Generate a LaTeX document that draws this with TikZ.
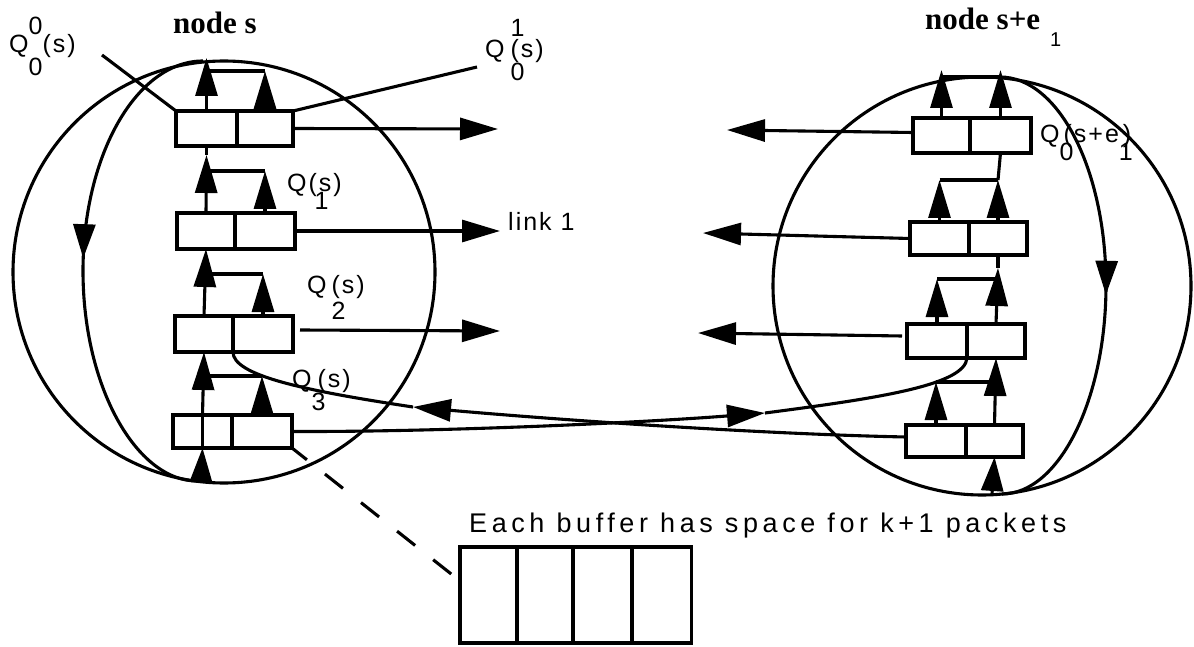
\documentclass[tikz,border=0pt]{standalone}
\usepackage{fontspec}
\setmainfont{Liberation Serif}
\newfontfamily\lblfont{Liberation Sans}[LetterSpace=8]
\newfontfamily\capfont{Liberation Sans}[LetterSpace=17]
\usetikzlibrary{arrows.meta,calc,decorations.markings}
\tikzset{
  ln/.style={line width=3.1pt},
  cell/.style={draw, line width=3.1pt, inner sep=0pt, outer sep=0pt},
  arr/.style={ln, -{Triangle[length=38pt,width=22pt]}},
  arrS/.style={ln, -{Triangle[length=34pt,width=22pt]}},
  lbl/.style={font=\lblfont\fontsize{25}{27}\selectfont, inner sep=0pt, anchor=base west},
  ttl/.style={font=\bfseries\fontsize{31}{34}\selectfont, inner sep=0pt, anchor=base west},
  midarrow/.style={postaction={decorate}, decoration={markings, mark=at position #1 with {\arrow{Triangle[length=34pt,width=22pt]}}}}
}
\begin{document}
\begin{tikzpicture}[x=1pt,y=-1pt]
\useasboundingbox (0,0) rectangle (1194,647);
\fill[white] (0,0) rectangle (1194,647);

% spheres
\draw[ln] (224,272) circle[radius=211pt];
\draw[ln] (982,286) circle[radius=209pt];
\draw[ln, midarrow=0.48] (203,61) .. controls (136.7,61) and (83,155) .. (83,271) .. controls (83,387) and (136.7,481) .. (197,481);
\draw[ln, midarrow=0.52] (1000,77) .. controls (1058.5,77) and (1106,169.6) .. (1106,285) .. controls (1106,400.4) and (1058.5,494) .. (1002,494);

% left buffers
\node[cell, minimum width=61pt, minimum height=35pt] (L0a) at (206.5,128.5) {};
\node[cell, minimum width=56pt, minimum height=35pt] (L0b) at (265,128.5) {};
\node[cell, minimum width=58pt, minimum height=36pt] (L1a) at (206,231) {};
\node[cell, minimum width=60pt, minimum height=36pt] (L1b) at (265,231) {};
\node[cell, minimum width=58pt, minimum height=36pt] (L2a) at (204,334) {};
\node[cell, minimum width=60pt, minimum height=36pt] (L2b) at (263,334) {};
\node[cell, minimum width=59pt, minimum height=33pt] (L3a) at (202.5,431.5) {};
\node[cell, minimum width=60pt, minimum height=33pt] (L3b) at (262,431.5) {};

% right buffers
\node[cell, minimum width=57pt, minimum height=35pt] (R0a) at (941.5,135.5) {};
\node[cell, minimum width=61pt, minimum height=35pt] (R0b) at (1000.5,135.5) {};
\node[cell, minimum width=59pt, minimum height=33pt] (R1a) at (939.5,238.5) {};
\node[cell, minimum width=58pt, minimum height=33pt] (R1b) at (998,238.5) {};
\node[cell, minimum width=60pt, minimum height=34pt] (R2a) at (937,341) {};
\node[cell, minimum width=58pt, minimum height=34pt] (R2b) at (996,341) {};
\node[cell, minimum width=60pt, minimum height=32pt] (R3a) at (936,441) {};
\node[cell, minimum width=57pt, minimum height=32pt] (R3b) at (994.5,441) {};

% bottom buffer
\node[cell, minimum width=57pt, minimum height=96pt] (B1) at (488.5,595) {};
\node[cell, minimum width=56pt, minimum height=96pt] (B2) at (545,595) {};
\node[cell, minimum width=59pt, minimum height=96pt] (B3) at (602.5,595) {};
\node[cell, minimum width=59pt, minimum height=96pt] (B4) at (662,595) {};

% left vertical structure
\coordinate (Lbot) at (201,482);
\draw[arrS] (Lbot) -- (L3a.south);
\draw[ln] (L3a.south) -- (L3a.north);
\draw[arr] (L3a.north) -- (L2a.south);
\coordinate (Lh3) at (0,376);
\draw[ln] (L3a.north |- Lh3) -- (L3b.north |- Lh3);
\draw[arr] (L3b.north) -- (L3b.north |- Lh3);

\draw[arr] (L2a.north) -- (L1a.south);
\coordinate (Lh2) at (0,274);
\draw[ln] (L2a.north |- Lh2) -- (L2b.north |- Lh2);
\draw[arr] (L2b.north) -- (L2b.north |- Lh2);

\coordinate (L0s) at ($(L0a.south)+(0,9)$);
\draw[ln] (L0a.south) -- (L0s);
\draw[arr] (L1a.north) -- (L0s);
\coordinate (Lh1) at (0,171);
\draw[ln] (L1a.north |- Lh1) -- (L1b.north |- Lh1);
\draw[arr] (L1b.north) -- (L1b.north |- Lh1);

\coordinate (Ltop) at (0,58);
\draw[arr] (L0a.north) -- (L0a.north |- Ltop);
\coordinate (Lh0) at (0,71);
\draw[ln] (L0a.north |- Lh0) -- (L0b.north |- Lh0);
\draw[arr] (L0b.north) -- (L0b.north |- Lh0);

% right vertical structure
\coordinate (Rbot) at (992,494);
\draw[arrS] (Rbot) -- (R3b.south);
\draw[arr] (R3b.north) -- (R2b.south);
\coordinate (Rh3) at (0,382);
\draw[ln] (R3a.north |- Rh3) -- (R3b.north |- Rh3);
\draw[arr] (R3a.north) -- (R3a.north |- Rh3);

\coordinate (R1s) at ($(R1b.south)+(0,13)$);
\draw[ln] (R1b.south) -- (R1s);
\draw[arr] (R2b.north) -- (R1s);
\coordinate (Rh2) at (0,279);
\draw[ln] (R2a.north |- Rh2) -- (R2b.north |- Rh2);
\draw[arr] (R2a.north) -- (R2a.north |- Rh2);

\coordinate (Rh1) at (0,180);
\draw[arr] (R1b.north) -- (R1b.north |- Rh1);
\draw[ln] (R1b.north |- Rh1) -- (R0b.south);
\draw[ln] (R1a.north |- Rh1) -- (R1b.north |- Rh1);
\draw[arr] (R1a.north) -- (R1a.north |- Rh1);

\coordinate (Rtip) at (0,70);
\coordinate (Rh0) at (0,77);
\draw[arr] (R0a.north) -- (R0a.north |- Rtip);
\draw[arr] (R0b.north) -- (R0b.north |- Rtip);
\draw[ln] (R0a.north |- Rh0) -- (R0b.north |- Rh0);

% horizontal link arrows
\coordinate (oL0) at (498,129);
\coordinate (oL1) at (500,231);
\coordinate (oL2) at (500,331);
\coordinate (oR0) at (727,130);
\coordinate (oR1) at (703,233);
\coordinate (oR2) at (698,333);
\draw[arr] (L0b.east) -- (oL0);
\draw[arr] (L1b.east) -- (oL1);
\draw[arr] ($(L2b.east)+(7,-4)$) -- (oL2);
\draw[arr] ($(R0a.west)+(0,-3)$) -- (oR0);
\draw[arr] (R1a.west) -- (oR1);
\draw[arr] ($(R2a.west)+(-5,-5)$) -- (oR2);

% crossing links
\coordinate (tipA) at (413,407);
\coordinate (tipB) at (765,413);
\draw[arr] ($(R3a.west)+(0,-4)$) .. controls (760,434) and (560,420) .. (tipA);
\draw[ln] (tipA) .. controls (300,390) and (233,375) .. (L2a.south east);
\draw[arr] (L3b.east) .. controls (450,432) and (650,422) .. (tipB);
\draw[ln] (tipB) .. controls (880,398) and (965,385) .. (R2a.south east);

% dashed pointer to bottom buffer
\coordinate (bufL) at (455,577);
\draw[ln, dash pattern=on 23pt off 23pt, dash phase=4pt] (L3b.south east) -- (bufL);

% label pointer lines
\coordinate (q00e) at (102,55);
\coordinate (q10e) at (477,67);
\draw[ln] (q00e) -- (L0a.north west);
\draw[ln] (L0b.north east) -- (q10e);

% titles
\node[ttl] (tL) at (173,34) {node s};
\node[ttl] (tR) at (925,30) {node s+e};
\node[lbl, font=\lblfont\fontsize{20}{20}\selectfont] (tRsub) at (1050,47) {1};

% labels
\node[lbl] (q00) at (9,53) {Q\rlap{\raisebox{0.72em}{0}}\raisebox{-0.9em}{0}(s)};
\node[lbl] (q10) at (485,58) {Q\kern6pt\rlap{\raisebox{0.85em}{1}}\rlap{\raisebox{-0.9em}{0}}(s)};
\node[lbl] (q1) at (287,192) {Q\kern2pt\rlap{\kern6pt\raisebox{-0.7em}{1}}(s)};
\node[lbl] (q2) at (307,293) {Q\kern5pt\rlap{\raisebox{-1.05em}{2}}(s)};
\node[lbl] (q3) at (292,387) {Q\rlap{\raisebox{-0.95em}{3}}\kern6pt(s)};
\node[lbl] (qR) at (1040,143) {Q\rlap{\raisebox{-0.7em}{0}}\kern4pt(s+e\rlap{\raisebox{-0.7em}{1}}\kern4pt)};
\node[lbl] (lk) at (508,230) {link 1};
\node[lbl, font=\capfont\fontsize{27}{29}\selectfont] (cap) at (469,532) {Each buffer has space for k+1 packets};
\end{tikzpicture}
\end{document}
